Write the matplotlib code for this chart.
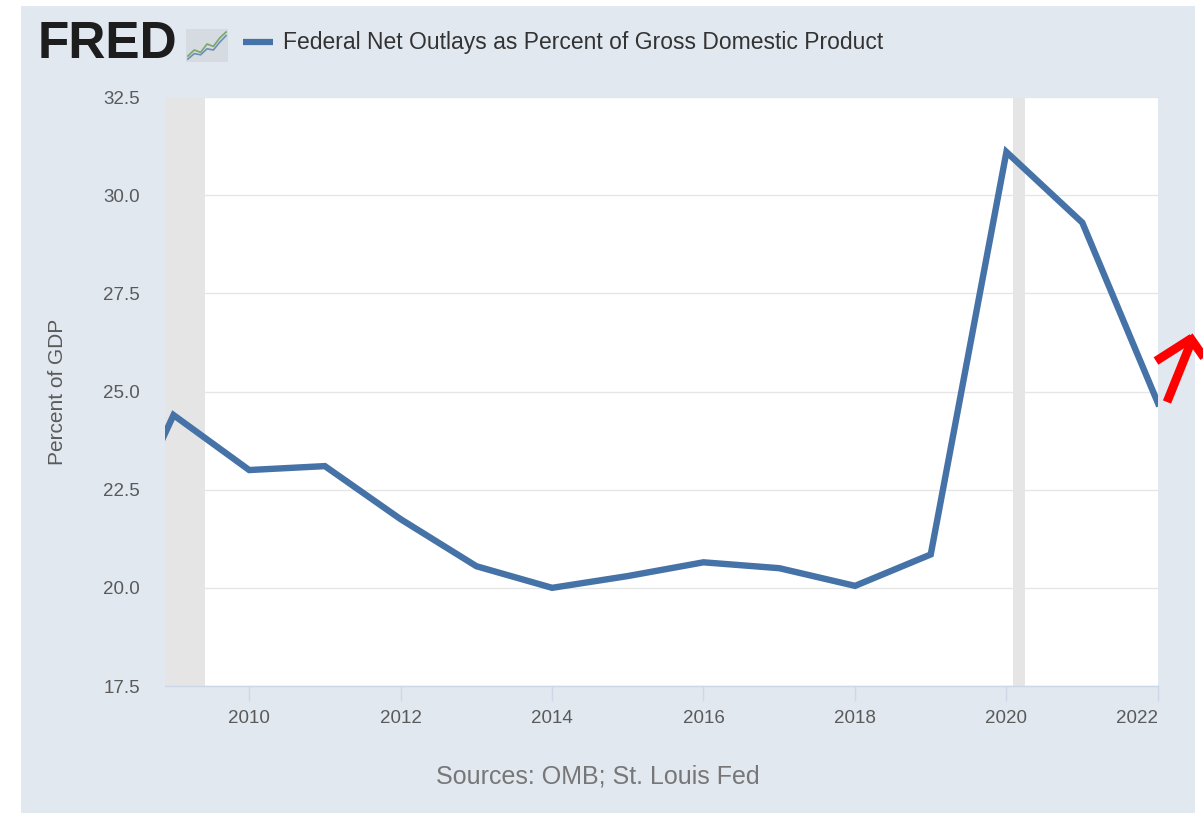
import numpy as np
import pandas as pd
import matplotlib
matplotlib.use("Agg")
import matplotlib.pyplot as plt
from matplotlib.lines import Line2D
from matplotlib.patches import Rectangle

plt.rcParams['font.family'] = ['Liberation Sans', 'DejaVu Sans']

# Federal net outlays, percent of GDP (fiscal years)
years = [2008, 2009, 2010, 2011, 2012, 2013, 2014, 2015, 2016, 2017, 2018, 2019, 2020, 2021, 2022]
outlays = [20.2, 24.4, 23.0, 23.1, 21.75, 20.55, 20.0, 20.3, 20.65, 20.5, 20.05, 20.85, 31.1, 29.3, 24.7]

# NBER recessions (shaded)
rec_start = ['2007-12-01', '2020-02-01']
rec_end = ['2009-06-01', '2020-04-01']

series_name = 'Federal Net Outlays as Percent of Gross Domestic Product'
y_label = 'Percent of GDP'
source = 'Sources: OMB; St. Louis Fed'
y_ticks = [17.5, 20.0, 22.5, 25.0, 27.5, 30.0, 32.5]
x_tick_years = [2010, 2012, 2014, 2016, 2018, 2020, 2022]

dates = pd.to_datetime([f'{y}-01-01' for y in years])

W, H = 1203, 813
fig = plt.figure(figsize=(W / 100, H / 100), dpi=100)
fig.patch.set_facecolor('white')

# light blue-gray FRED panel
fig.patches.append(Rectangle((21 / W, 0), (1195 - 21) / W, (H - 6) / H,
                             transform=fig.transFigure, facecolor='#e1e8f0',
                             edgecolor='none', zorder=-1))

ax = fig.add_axes([165 / W, (H - 686) / H, (1158 - 165) / W, (686 - 97) / H])
ax.set_facecolor('white')

for s, e in zip(rec_start, rec_end):
    ax.axvspan(pd.Timestamp(s), pd.Timestamp(e), color='#e5e5e5', lw=0, zorder=1)

ax.plot(dates, outlays, color='#4572a7', lw=4.6, solid_joinstyle='miter', zorder=3)

ax.set_xlim(pd.Timestamp('2008-11-21'), pd.Timestamp('2022-01-01'))
ax.set_ylim(17.5, 32.5)

ax.set_yticks(y_ticks)
ax.set_yticklabels([f'{v:.1f}' for v in y_ticks])
ax.grid(axis='y', color='#e6e6e6', lw=1, zorder=0)
ax.tick_params(axis='y', length=0, pad=18, labelsize=13.5, labelcolor='#5a5a5a')

xt = pd.to_datetime([f'{y}-01-01' for y in x_tick_years])
ax.set_xticks(xt)
ax.set_xticklabels([str(y) for y in x_tick_years])
ax.tick_params(axis='x', length=11, width=1, color='#d0d8e6', pad=6,
               labelsize=13.5, labelcolor='#5a5a5a')
ax.get_xticklabels()[-1].set_ha('right')

for side in ['top', 'right', 'left']:
    ax.spines[side].set_visible(False)
ax.spines['bottom'].set_color('#ccd6eb')
ax.spines['bottom'].set_linewidth(1)

ax.set_ylabel(y_label, fontsize=15, color='#5a5a5a', labelpad=26)

# header: FRED logo, icon and legend
fig.text(38 / W, 1 - 44 / H, 'FRED', fontsize=37, fontweight='bold',
         color='#1d1d1d', va='center', ha='left')
icon = fig.add_axes([186 / W, 1 - 62 / H, 42 / W, 33 / H])
icon.add_patch(Rectangle((0, 0), 1, 1, transform=icon.transAxes,
                         facecolor='#d5dbe1', edgecolor='none', zorder=0))
icon.plot([0, 1, 2, 3, 4, 5, 6], [1, 2, 1.6, 3, 2.6, 4, 5], color='#7aa66a', lw=1.2)
icon.plot([0, 1, 2, 3, 4, 5, 6], [0.5, 1.4, 1.2, 2.2, 2.0, 3.3, 4.4], color='#6d8fb5', lw=1.2)
icon.set_xlim(-0.3, 6.3)
icon.set_ylim(0, 5.5)
icon.axis('off')

fig.add_artist(Line2D([243 / W, 273 / W], [1 - 42 / H, 1 - 42 / H],
                      color='#4572a7', lw=4.5, solid_capstyle='butt',
                      transform=fig.transFigure))
fig.text(283 / W, 1 - 42 / H, series_name, fontsize=16.5, color='#333333',
         va='center', ha='left')

fig.text(598 / W, 1 - 776 / H, source, fontsize=18, color='#777777',
         va='center', ha='center')

# red arrow annotation at the right edge
arrow_kw = dict(color='#ff0000', lw=6.3, transform=fig.transFigure,
                solid_capstyle='butt', zorder=10)
fig.add_artist(Line2D([1167 / W, 1192 / W], [1 - 402 / H, 1 - 340 / H], **arrow_kw))
fig.add_artist(Line2D([1156 / W, 1192 / W], [1 - 361 / H, 1 - 338 / H], **arrow_kw))
fig.add_artist(Line2D([1189 / W, 1210 / W], [1 - 336 / H, 1 - 366 / H], **arrow_kw))

fig.savefig('out.png', dpi=100)
